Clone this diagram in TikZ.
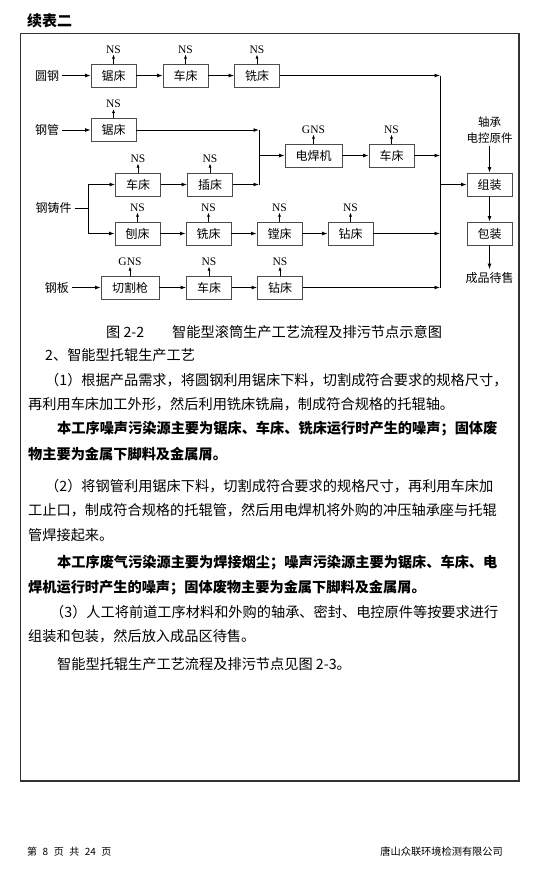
\documentclass[tikz,border=0pt]{standalone}
\usepackage{fontspec}
\setmainfont{Noto Sans CJK SC}
\newfontfamily\tnr{Liberation Serif}
\usetikzlibrary{arrows.meta,positioning}
\XeTeXlinebreaklocale "zh"
\XeTeXlinebreakskip=0pt plus 1pt
\newcommand\fillline{\parfillskip=0pt\relax}

\begin{document}
\begin{tikzpicture}[
  x=1pt,
  y=-1pt,
  box/.style={draw=black!70,line width=0.8pt,minimum width=45pt,
    minimum height=23pt,inner sep=2pt,font=\fontsize{12}{14}\selectfont},
  noise/.style={inner sep=1pt,font=\tnr\fontsize{11.5}{12}\selectfont},
  stock/.style={inner sep=3pt,font=\fontsize{12}{14}\selectfont},
  flow/.style={line width=0.8pt,-{Latex[length=5.5pt,width=3.8pt]}},
  rise/.style={line width=0.7pt,-{Latex[length=4pt,width=3pt]}},
  wire/.style={line width=0.8pt},
  body/.style={anchor=west,inner sep=0pt,font=\fontsize{14.2}{17}\selectfont},
  full/.style={body,text width=#1,align=justify},
  heavy/.style={font=\bfseries\fontsize{14.2}{17}\selectfont}
]
  \useasboundingbox (0,0) rectangle (545,879);

  % Heading and frame.
  \node[anchor=west,inner sep=0pt,font=\bfseries\fontsize{15}{16}\selectfont]
    (title) at (27,20.5) {续表二};
  \draw[black!80,line width=1.1pt] (20.5,33.5) rectangle (519,781);

  % Process boxes.
  \node[box] (sawA)   at (113.5,75.5)  {锯床};
  \node[box] (latheA) at (185.5,75.5)  {车床};
  \node[box] (millA)  at (257,75.5)    {铣床};
  \node[box] (sawB)   at (113.5,130)   {锯床};
  \node[box,minimum width=57pt] (weld) at (313.5,155.5) {电焊机};
  \node[box] (latheC) at (391.5,155.5) {车床};
  \node[box] (latheD) at (138,184.5)   {车床};
  \node[box] (slotD)  at (210,184.5)   {插床};
  \node[box] (planeE) at (137.5,233.5) {刨床};
  \node[box] (millE)  at (208.5,233.5) {铣床};
  \node[box] (boreE)  at (279.5,233.5) {镗床};
  \node[box] (drillE) at (350.5,233.5) {钻床};
  \node[box,minimum width=58pt] (cutF) at (130,287.5) {切割枪};
  \node[box] (latheF) at (209,287.5)   {车床};
  \node[box] (drillF) at (280,287.5)   {钻床};
  \node[box] (asm)    at (489.5,184.5) {组装};
  \node[box] (pack)   at (489.5,233.5) {包装};

  % Raw materials, bought parts and product.
  \node[stock] (round) at (47,75.5)  {圆钢};
  \node[stock] (tube)  at (47,130)   {钢管};
  \node[stock] (cast)  at (53.5,208) {钢铸件};
  \node[stock] (plate) at (57,287.5) {钢板};
  \node[stock,align=center,font=\fontsize{11.5}{16}\selectfont]
    (parts) at (489.5,130) {轴承\\电控原件};
  \node[stock] (sale) at (489.5,278) {成品待售};

  % Collecting lines.
  \coordinate (bus top)  at (440,75.5);
  \coordinate (bus bot)  at (440,287.5);
  \coordinate (join top) at (259,130);
  \coordinate (join bot) at (259,184.5);
  \coordinate (split)    at (88,208);
  \draw[wire] (bus top) -- (bus bot);
  \draw[wire] (join top) -- (join bot);
  \draw[wire] (cast) -- (split);
  \draw[wire] (split |- latheD) -- (split |- planeE);

  % Flow arrows.
  \foreach \a/\b in {round/sawA,sawA/latheA,latheA/millA,tube/sawB,
      weld/latheC,latheD/slotD,planeE/millE,millE/boreE,boreE/drillE,
      plate/cutF,cutF/latheF,latheF/drillF,parts/asm,asm/pack,pack/sale}
    \draw[flow] (\a) -- (\b);
  \foreach \a in {millA,latheC,drillE,drillF}
    \draw[flow] (\a) -- (\a -| bus top);
  \foreach \a in {sawB,slotD}
    \draw[flow] (\a) -- (\a -| join top);
  \draw[flow] (join top |- weld) -- (weld);
  \draw[flow] (bus top |- asm) -- (asm);
  \draw[flow] (split |- latheD) -- (latheD);
  \draw[flow] (split |- planeE) -- (planeE);

  % Emission labels.
  \foreach \b/\lab in {sawA/NS,latheA/NS,millA/NS,sawB/NS,weld/GNS,
      latheC/NS,latheD/NS,slotD/NS,planeE/NS,millE/NS,boreE/NS,
      drillE/NS,cutF/GNS,latheF/NS,drillF/NS}
    {
      \node[noise,above=9pt of \b] (\b-out) {\lab};
      \draw[rise] (\b) -- (\b-out);
    }

  % Caption and text.
  \node[body] (capno)  at (106,332) {图 2-2};
  \node[body] (captxt) at (172,332) {智能型滚筒生产工艺流程及排污节点示意图};
  \node[body] (sec) at (45,355) {2、智能型托辊生产工艺};
  \node[full=467pt] (p1a) at (45,380)
    {\fillline（1）根据产品需求，将圆钢利用锯床下料，切割成符合要求的规格尺寸，};
  \node[body] (p1b) at (28,404)
    {再利用车床加工外形，然后利用铣床铣扁，制成符合规格的托辊轴。};
  \node[full=455pt,heavy] (n1a) at (57,429)
    {\fillline 本工序噪声污染源主要为锯床、车床、铣床运行时产生的噪声；固体废};
  \node[body,heavy] (n1b) at (28,454)
    {物主要为金属下脚料及金属屑。};
  \node[full=467pt] (p2a) at (45,486)
    {\fillline（2）将钢管利用锯床下料，切割成符合要求的规格尺寸，再利用车床加};
  \node[full=484pt] (p2b) at (28,510)
    {\fillline 工止口，制成符合规格的托辊管，然后用电焊机将外购的冲压轴承座与托辊};
  \node[body] (p2c) at (28,535) {管焊接起来。};
  \node[full=455pt,heavy] (n2a) at (57,563)
    {\fillline 本工序废气污染源主要为焊接烟尘；噪声污染源主要为锯床、车床、电};
  \node[body,heavy] (n2b) at (28,588)
    {焊机运行时产生的噪声；固体废物主要为金属下脚料及金属屑。};
  \node[full=462pt] (p3a) at (50,612)
    {\fillline（3）人工将前道工序材料和外购的轴承、密封、电控原件等按要求进行};
  \node[body] (p3b) at (28,636) {组装和包装，然后放入成品区待售。};
  \node[body] (ref) at (57,664) {智能型托辊生产工艺流程及排污节点见图 2-3。};

  % Footer.
  \node[anchor=west,inner sep=0pt,font=\fontsize{10}{12}\selectfont]
    (pageno) at (27,852)
    {第\hspace{5.5pt}8\hspace{5.5pt}页\hspace{5.5pt}共\hspace{5.5pt}24\hspace{5.5pt}页};
  \node[anchor=east,inner sep=0pt,font=\fontsize{10.2}{12}\selectfont]
    (firm) at (503,852) {唐山众联环境检测有限公司};
\end{tikzpicture}
\end{document}
